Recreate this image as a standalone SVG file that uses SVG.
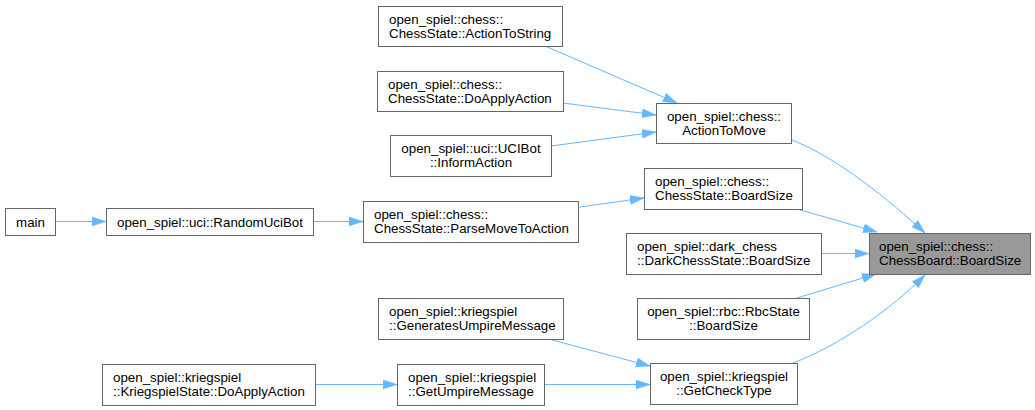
<svg xmlns="http://www.w3.org/2000/svg" width="1035" height="410" viewBox="0 0 1035 410">
<defs>
<style>
.box{fill:#ffffff;stroke:#666666;stroke-width:1}
.focus{fill:#999999;stroke:#666666;stroke-width:1}
text{font-family:"Liberation Sans",Arial,sans-serif;font-size:13.33px;fill:#000000}
.c{text-anchor:middle}
.edge{fill:none;stroke:#63b8ff;stroke-width:1;marker-end:url(#arr)}
</style>
<marker id="arr" markerUnits="userSpaceOnUse" viewBox="0 0 14 10" refX="14" refY="5" markerWidth="14" markerHeight="10" orient="auto">
<path d="M0,0.5 L14,5 L0,9.5 z" fill="#63b8ff" stroke="#63b8ff" stroke-width="0.5"/>
</marker>
</defs>
<rect width="1035" height="410" fill="#ffffff"/>
<g id="connectors">
<path class="edge" d="M545,46 L677,103"/>
<path class="edge" d="M563,103 L656,115"/>
<path class="edge" d="M551,146 L656,132"/>
<path class="edge" d="M792,140 C838,158 889,200 925,233"/>
<path class="edge" d="M797,209 L877,232"/>
<path class="edge" d="M821,253.5 L869,253.5"/>
<path class="edge" d="M797,298 L876,274"/>
<path class="edge" d="M793,363 C840,345 890,310 925,275"/>
<path class="edge" d="M580,207 L644,198"/>
<path class="edge" d="M552,340 L650,366"/>
<path class="edge" d="M544,384.5 L650,384.5"/>
<path class="edge" d="M315,384.5 L397,384.5"/>
<path class="edge" d="M55,221.5 L106,221.5"/>
<path class="edge" d="M313,221.5 L363,221.5"/>
</g>
<g id="n_actiontostring">
<rect class="box" x="378.5" y="6.5" width="184" height="40"/>
<text x="389" y="23.5">open_spiel::chess::</text>
<text x="389" y="37.5">ChessState::ActionToString</text>
</g>
<g id="n_doapplyaction">
<rect class="box" x="377.5" y="71.5" width="186" height="40"/>
<text x="388" y="88.5">open_spiel::chess::</text>
<text x="388" y="102.5">ChessState::DoApplyAction</text>
</g>
<g id="n_informaction">
<rect class="box" x="390.5" y="135.5" width="161" height="41"/>
<text class="c" x="471" y="153">open_spiel::uci::UCIBot</text>
<text class="c" x="471" y="167">::InformAction</text>
</g>
<g id="n_actiontomove">
<rect class="box" x="656.5" y="103.5" width="135" height="40"/>
<text class="c" x="724" y="120.5">open_spiel::chess::</text>
<text class="c" x="724" y="134.5">ActionToMove</text>
</g>
<g id="n_chessstate_boardsize">
<rect class="box" x="644.5" y="168.5" width="158" height="41"/>
<text x="655" y="186">open_spiel::chess::</text>
<text x="655" y="200">ChessState::BoardSize</text>
</g>
<g id="n_darkchess_boardsize">
<rect class="box" x="626.5" y="233.5" width="195" height="41"/>
<text x="637" y="251">open_spiel::dark_chess</text>
<text x="637" y="265">::DarkChessState::BoardSize</text>
</g>
<g id="n_chessboard_boardsize">
<rect class="focus" x="869.5" y="233.5" width="161" height="41"/>
<text x="879" y="251">open_spiel::chess::</text>
<text x="879" y="265">ChessBoard::BoardSize</text>
</g>
<g id="n_rbc_boardsize">
<rect class="box" x="637.5" y="298.5" width="172" height="41"/>
<text class="c" x="723.5" y="316">open_spiel::rbc::RbcState</text>
<text class="c" x="723.5" y="330">::BoardSize</text>
</g>
<g id="n_getchecktype">
<rect class="box" x="650.5" y="363.5" width="147" height="41"/>
<text class="c" x="724" y="381">open_spiel::kriegspiel</text>
<text class="c" x="724" y="395">::GetCheckType</text>
</g>
<g id="n_main">
<rect class="box" x="5.5" y="208.5" width="50" height="27"/>
<text class="c" x="30.5" y="226.5">main</text>
</g>
<g id="n_randomucibot">
<rect class="box" x="106.5" y="208.5" width="207" height="27"/>
<text class="c" x="210" y="226.5">open_spiel::uci::RandomUciBot</text>
</g>
<g id="n_parsemovetoaction">
<rect class="box" x="363.5" y="201.5" width="215" height="41"/>
<text x="374" y="219">open_spiel::chess::</text>
<text x="374" y="233">ChessState::ParseMoveToAction</text>
</g>
<g id="n_generatesumpiremessage">
<rect class="box" x="378.5" y="298.5" width="185" height="41"/>
<text x="389" y="316">open_spiel::kriegspiel</text>
<text x="389" y="330">::GeneratesUmpireMessage</text>
</g>
<g id="n_kriegspiel_doapplyaction">
<rect class="box" x="102.5" y="364.5" width="213" height="41"/>
<text x="113" y="382">open_spiel::kriegspiel</text>
<text x="113" y="396">::KriegspielState::DoApplyAction</text>
</g>
<g id="n_getumpiremessage">
<rect class="box" x="397.5" y="364.5" width="147" height="41"/>
<text x="408" y="382">open_spiel::kriegspiel</text>
<text x="408" y="396">::GetUmpireMessage</text>
</g>
</svg>
